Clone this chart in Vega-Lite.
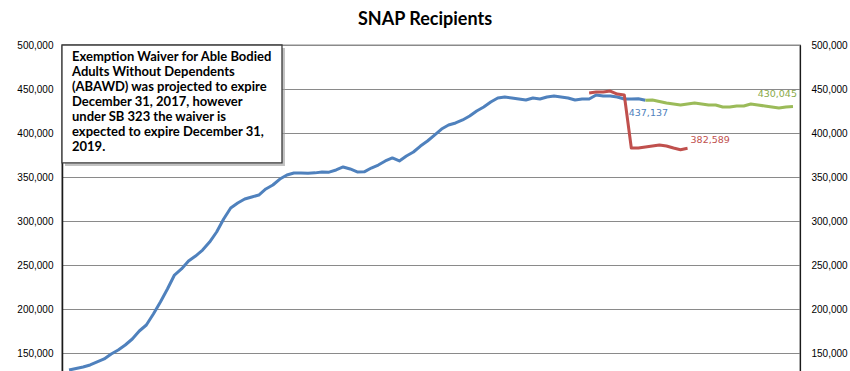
{
  "$schema": "https://vega.github.io/schema/vega-lite/v6.json",
  "autosize": "none",
  "width": 738,
  "height": 352,
  "padding": {"left": 62, "top": 45, "right": 50, "bottom": 5},
  "background": "white",
  "title": {"text": "SNAP Recipients", "font": "Lato", "fontSize": 18, "fontWeight": "bold", "color": "#000000", "anchor": "middle", "offset": 11, "dx": -6},
  "config": {
    "view": {"stroke": "#1a1a1a", "strokeWidth": 1.2},
    "axis": {"labelFont": "Liberation Sans", "labelFontSize": 10, "labelColor": "#000000", "ticks": false, "title": null}
  },
  "datasets": {
    "snap": [
      {"t": 1, "value": 130700, "series": "Actual"},
      {"t": 2, "value": 132400, "series": "Actual"},
      {"t": 3, "value": 134100, "series": "Actual"},
      {"t": 4, "value": 136400, "series": "Actual"},
      {"t": 5, "value": 139800, "series": "Actual"},
      {"t": 6, "value": 143200, "series": "Actual"},
      {"t": 7, "value": 148900, "series": "Actual"},
      {"t": 8, "value": 153400, "series": "Actual"},
      {"t": 9, "value": 159100, "series": "Actual"},
      {"t": 10, "value": 165900, "series": "Actual"},
      {"t": 11, "value": 175000, "series": "Actual"},
      {"t": 12, "value": 181800, "series": "Actual"},
      {"t": 13, "value": 194300, "series": "Actual"},
      {"t": 14, "value": 208000, "series": "Actual"},
      {"t": 15, "value": 222700, "series": "Actual"},
      {"t": 16, "value": 238600, "series": "Actual"},
      {"t": 17, "value": 245500, "series": "Actual"},
      {"t": 18, "value": 254500, "series": "Actual"},
      {"t": 19, "value": 260200, "series": "Actual"},
      {"t": 20, "value": 267000, "series": "Actual"},
      {"t": 21, "value": 276100, "series": "Actual"},
      {"t": 22, "value": 287500, "series": "Actual"},
      {"t": 23, "value": 302300, "series": "Actual"},
      {"t": 24, "value": 314800, "series": "Actual"},
      {"t": 25, "value": 320500, "series": "Actual"},
      {"t": 26, "value": 325000, "series": "Actual"},
      {"t": 27, "value": 327300, "series": "Actual"},
      {"t": 28, "value": 329500, "series": "Actual"},
      {"t": 29, "value": 336400, "series": "Actual"},
      {"t": 30, "value": 340900, "series": "Actual"},
      {"t": 31, "value": 347700, "series": "Actual"},
      {"t": 32, "value": 352300, "series": "Actual"},
      {"t": 33, "value": 354500, "series": "Actual"},
      {"t": 34, "value": 354500, "series": "Actual"},
      {"t": 35, "value": 354300, "series": "Actual"},
      {"t": 36, "value": 354700, "series": "Actual"},
      {"t": 37, "value": 355700, "series": "Actual"},
      {"t": 38, "value": 355500, "series": "Actual"},
      {"t": 39, "value": 358000, "series": "Actual"},
      {"t": 40, "value": 361400, "series": "Actual"},
      {"t": 41, "value": 359100, "series": "Actual"},
      {"t": 42, "value": 355700, "series": "Actual"},
      {"t": 43, "value": 355900, "series": "Actual"},
      {"t": 44, "value": 360200, "series": "Actual"},
      {"t": 45, "value": 363600, "series": "Actual"},
      {"t": 46, "value": 368200, "series": "Actual"},
      {"t": 47, "value": 371600, "series": "Actual"},
      {"t": 48, "value": 368200, "series": "Actual"},
      {"t": 49, "value": 373900, "series": "Actual"},
      {"t": 50, "value": 378400, "series": "Actual"},
      {"t": 51, "value": 385200, "series": "Actual"},
      {"t": 52, "value": 390900, "series": "Actual"},
      {"t": 53, "value": 397700, "series": "Actual"},
      {"t": 54, "value": 404500, "series": "Actual"},
      {"t": 55, "value": 409100, "series": "Actual"},
      {"t": 56, "value": 411400, "series": "Actual"},
      {"t": 57, "value": 414800, "series": "Actual"},
      {"t": 58, "value": 419300, "series": "Actual"},
      {"t": 59, "value": 425000, "series": "Actual"},
      {"t": 60, "value": 429500, "series": "Actual"},
      {"t": 61, "value": 435200, "series": "Actual"},
      {"t": 62, "value": 439800, "series": "Actual"},
      {"t": 63, "value": 440900, "series": "Actual"},
      {"t": 64, "value": 439800, "series": "Actual"},
      {"t": 65, "value": 438600, "series": "Actual"},
      {"t": 66, "value": 437500, "series": "Actual"},
      {"t": 67, "value": 439800, "series": "Actual"},
      {"t": 68, "value": 438600, "series": "Actual"},
      {"t": 69, "value": 440900, "series": "Actual"},
      {"t": 70, "value": 442000, "series": "Actual"},
      {"t": 71, "value": 440900, "series": "Actual"},
      {"t": 72, "value": 439800, "series": "Actual"},
      {"t": 73, "value": 437500, "series": "Actual"},
      {"t": 74, "value": 438600, "series": "Actual"},
      {"t": 75, "value": 438600, "series": "Actual"},
      {"t": 76, "value": 443200, "series": "Actual"},
      {"t": 77, "value": 442000, "series": "Actual"},
      {"t": 78, "value": 442000, "series": "Actual"},
      {"t": 79, "value": 440900, "series": "Actual"},
      {"t": 80, "value": 438600, "series": "Actual"},
      {"t": 81, "value": 438600, "series": "Actual"},
      {"t": 82, "value": 439000, "series": "Actual"},
      {"t": 83, "value": 437137, "series": "Actual"},
      {"t": 75, "value": 445500, "series": "Without waiver"},
      {"t": 76, "value": 446600, "series": "Without waiver"},
      {"t": 77, "value": 446600, "series": "Without waiver"},
      {"t": 78, "value": 447700, "series": "Without waiver"},
      {"t": 79, "value": 444300, "series": "Without waiver"},
      {"t": 80, "value": 443200, "series": "Without waiver"},
      {"t": 81, "value": 383000, "series": "Without waiver"},
      {"t": 82, "value": 383000, "series": "Without waiver"},
      {"t": 83, "value": 384100, "series": "Without waiver"},
      {"t": 84, "value": 385200, "series": "Without waiver"},
      {"t": 85, "value": 386400, "series": "Without waiver"},
      {"t": 86, "value": 385200, "series": "Without waiver"},
      {"t": 87, "value": 383000, "series": "Without waiver"},
      {"t": 88, "value": 381000, "series": "Without waiver"},
      {"t": 89, "value": 382589, "series": "Without waiver"},
      {"t": 83, "value": 437137, "series": "With waiver"},
      {"t": 84, "value": 437500, "series": "With waiver"},
      {"t": 85, "value": 435800, "series": "With waiver"},
      {"t": 86, "value": 434100, "series": "With waiver"},
      {"t": 87, "value": 433000, "series": "With waiver"},
      {"t": 88, "value": 431800, "series": "With waiver"},
      {"t": 89, "value": 433000, "series": "With waiver"},
      {"t": 90, "value": 434100, "series": "With waiver"},
      {"t": 91, "value": 433000, "series": "With waiver"},
      {"t": 92, "value": 431800, "series": "With waiver"},
      {"t": 93, "value": 431800, "series": "With waiver"},
      {"t": 94, "value": 429500, "series": "With waiver"},
      {"t": 95, "value": 429500, "series": "With waiver"},
      {"t": 96, "value": 430700, "series": "With waiver"},
      {"t": 97, "value": 430700, "series": "With waiver"},
      {"t": 98, "value": 433000, "series": "With waiver"},
      {"t": 99, "value": 431800, "series": "With waiver"},
      {"t": 100, "value": 430700, "series": "With waiver"},
      {"t": 101, "value": 429500, "series": "With waiver"},
      {"t": 102, "value": 428400, "series": "With waiver"},
      {"t": 103, "value": 429500, "series": "With waiver"},
      {"t": 104, "value": 430045, "series": "With waiver"}
    ],
    "note": [
      {"note": "Exemption Waiver for Able Bodied\nAdults Without Dependents\n(ABAWD) was projected to expire\nDecember 31, 2017, however\nunder SB 323 the waiver is\nexpected to expire December 31,\n2019."}
    ]
  },
  "resolve": {"axis": {"y": "independent"}},
  "layer": [
    {
      "data": {"name": "snap"},
      "transform": [{"filter": "datum.series === 'Actual'"}],
      "mark": {"type": "line", "color": "#4F81BD", "strokeWidth": 3, "strokeJoin": "round", "clip": true},
      "encoding": {
        "x": {"field": "t", "type": "quantitative", "scale": {"domain": [0, 105], "nice": false, "zero": false}, "axis": null},
        "y": {"field": "value", "type": "quantitative", "scale": {"domain": [100000, 500000], "nice": false, "zero": false},
              "axis": {"orient": "left", "values": [150000, 200000, 250000, 300000, 350000, 400000, 450000, 500000], "format": ",d", "grid": true, "gridColor": "#8a8a8a", "gridWidth": 1, "domain": true, "domainColor": "#1a1a1a", "domainWidth": 1.5, "labelPadding": 9}}
      }
    },
    {
      "data": {"name": "snap"},
      "transform": [{"filter": "datum.series === 'Without waiver'"}],
      "mark": {"type": "line", "color": "#C0504D", "strokeWidth": 3, "strokeJoin": "round", "clip": true},
      "encoding": {
        "x": {"field": "t", "type": "quantitative", "axis": null},
        "y": {"field": "value", "type": "quantitative",
              "axis": {"orient": "right", "values": [150000, 200000, 250000, 300000, 350000, 400000, 450000, 500000], "format": ",d", "grid": false, "domain": true, "domainColor": "#1a1a1a", "domainWidth": 1.2, "labelPadding": 11, "labelAlign": "left"}}
      }
    },
    {
      "data": {"name": "snap"},
      "transform": [{"filter": "datum.series === 'With waiver'"}],
      "mark": {"type": "line", "color": "#9BBB59", "strokeWidth": 3, "strokeJoin": "round", "clip": true},
      "encoding": {
        "x": {"field": "t", "type": "quantitative", "axis": null},
        "y": {"field": "value", "type": "quantitative", "axis": null}
      }
    },
    {
      "data": {"name": "snap"},
      "transform": [{"filter": "datum.series === 'Actual' && datum.t === 83"}],
      "mark": {"type": "text", "color": "#4F81BD", "font": "DejaVu Sans", "fontSize": 9.5, "align": "center", "baseline": "middle", "dx": 3, "dy": 13},
      "encoding": {
        "x": {"field": "t", "type": "quantitative", "axis": null},
        "y": {"field": "value", "type": "quantitative", "axis": null},
        "text": {"field": "value", "type": "quantitative", "format": ",d"}
      }
    },
    {
      "data": {"name": "snap"},
      "transform": [{"filter": "datum.series === 'Without waiver' && datum.t === 89"}],
      "mark": {"type": "text", "color": "#C0504D", "font": "DejaVu Sans", "fontSize": 9.5, "align": "left", "baseline": "middle", "dx": 3, "dy": -8},
      "encoding": {
        "x": {"field": "t", "type": "quantitative", "axis": null},
        "y": {"field": "value", "type": "quantitative", "axis": null},
        "text": {"field": "value", "type": "quantitative", "format": ",d"}
      }
    },
    {
      "data": {"name": "snap"},
      "transform": [{"filter": "datum.series === 'With waiver' && datum.t === 104"}],
      "mark": {"type": "text", "color": "#8AAA4A", "font": "DejaVu Sans", "fontSize": 9.5, "align": "right", "baseline": "middle", "dx": 4, "dy": -13},
      "encoding": {
        "x": {"field": "t", "type": "quantitative", "axis": null},
        "y": {"field": "value", "type": "quantitative", "axis": null},
        "text": {"field": "value", "type": "quantitative", "format": ",d"}
      }
    },
    {
      "data": {"name": "note"},
      "mark": {"type": "rect", "fill": "#9a9a9a", "opacity": 0.6, "xOffset": 3, "yOffset": 3, "x2Offset": 3, "y2Offset": 3},
      "encoding": {
        "x": {"datum": 0, "type": "quantitative", "axis": null},
        "x2": {"datum": 31.3},
        "y": {"datum": 500000, "type": "quantitative", "axis": null},
        "y2": {"datum": 366000}
      }
    },
    {
      "data": {"name": "note"},
      "mark": {"type": "rect", "fill": "white", "stroke": "#3a3a3a", "strokeWidth": 1.3},
      "encoding": {
        "x": {"datum": 0, "type": "quantitative", "axis": null},
        "x2": {"datum": 31.3},
        "y": {"datum": 500000, "type": "quantitative", "axis": null},
        "y2": {"datum": 366000}
      }
    },
    {
      "data": {"name": "note"},
      "mark": {"type": "text", "font": "Lato", "fontSize": 13, "fontWeight": "bold", "color": "#000000", "align": "left", "baseline": "top", "lineBreak": "\n", "lineHeight": 15, "dx": 10, "dy": 6},
      "encoding": {
        "x": {"datum": 0, "type": "quantitative", "axis": null},
        "y": {"datum": 500000, "type": "quantitative", "axis": null},
        "text": {"field": "note", "type": "nominal"}
      }
    }
  ]
}
